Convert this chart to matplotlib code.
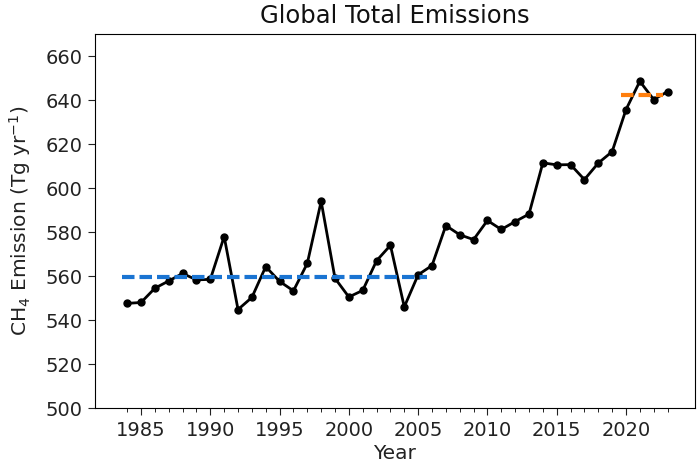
import matplotlib
matplotlib.use('Agg')
import matplotlib.pyplot as plt
import numpy as np

years = np.arange(1984, 2024)
emissions = [547.6, 548.0, 554.5, 557.8, 561.2, 558.3, 558.5, 578.0, 544.8, 550.3,
             564.3, 557.6, 553.3, 565.8, 594.0, 559.0, 550.5, 553.5, 567.0, 574.0,
             546.0, 560.6, 564.8, 583.0, 578.8, 576.6, 585.3, 581.2, 584.8, 588.2,
             611.5, 610.6, 610.7, 603.9, 611.4, 616.6, 635.7, 648.6, 640.3, 643.9]

early_period = [1984, 2006]
early_mean = 559.8
late_period = [2020, 2023]
late_mean = 642.5

fig = plt.figure(figsize=(6.99, 4.69), dpi=100)
ax = fig.add_axes([0.136, 0.13, 0.858, 0.797])

ax.plot(years, emissions, 'k-', marker='o', markersize=5, linewidth=2)

shift = -0.35
ax.plot(np.array(early_period) + shift, [early_mean, early_mean], '--',
        color='#1a74d2', linewidth=3, dashes=(3, 1.2))
ax.plot(np.array(late_period) + shift, [late_mean, late_mean], '--',
        color='#ff7f0e', linewidth=3, dashes=(3, 1.2))

ax.set_ylim(500, 670)
ax.set_yticks(np.arange(500, 661, 20))
ax.set_xticks(np.arange(1985, 2025, 5))
ax.set_xticks(years, minor=True)
ax.tick_params(labelsize=14, colors='#222222', length=5, pad=4)
ax.tick_params(which='minor', length=3)
ax.set_xlabel('Year', fontsize=14.5, color='#222222', labelpad=3)
ax.set_ylabel('CH$_4$ Emission (Tg yr$^{-1}$)', fontsize=14.5, color='#222222', labelpad=9)
ax.set_title('Global Total Emissions', fontsize=17.5, color='#111111', pad=8)

fig.savefig('out.png', dpi=100)
